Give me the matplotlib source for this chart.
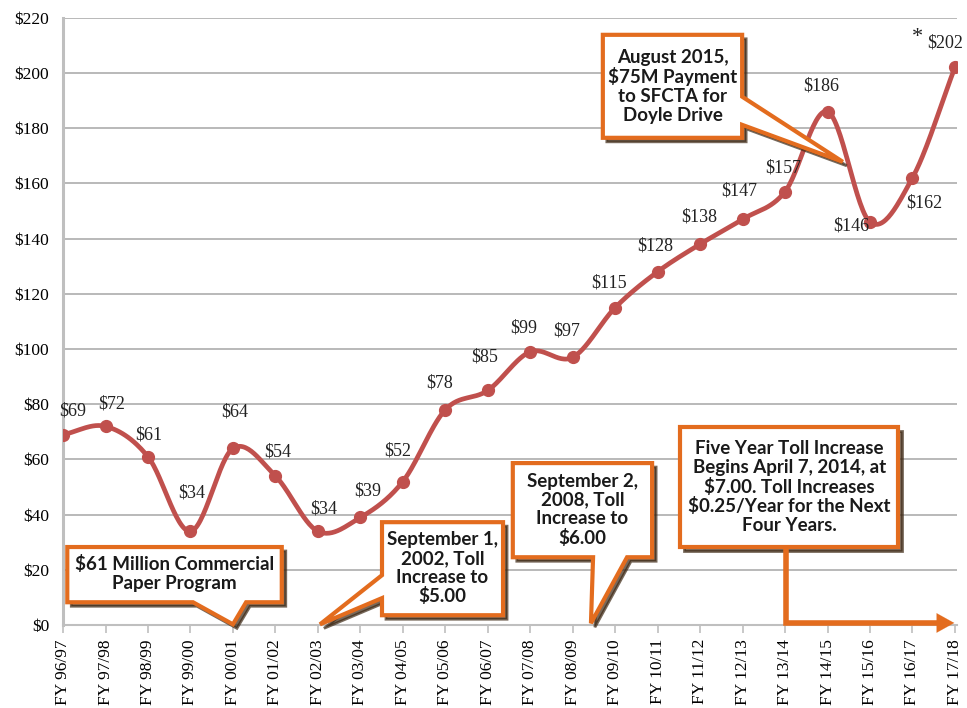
import numpy as np
import matplotlib
matplotlib.use("Agg")
import matplotlib.pyplot as plt
from matplotlib.patches import Polygon, FancyArrowPatch

categories = ["FY 96/97", "FY 97/98", "FY 98/99", "FY 99/00", "FY 00/01", "FY 01/02",
              "FY 02/03", "FY 03/04", "FY 04/05", "FY 05/06", "FY 06/07", "FY 07/08",
              "FY 08/09", "FY 09/10", "FY 10/11", "FY 11/12", "FY 12/13", "FY 13/14",
              "FY 14/15", "FY 15/16", "FY 16/17", "FY 17/18"]
values = [69, 72, 61, 34, 64, 54, 34, 39, 52, 78, 85, 99, 97, 115, 128, 138, 147, 157,
          186, 146, 162, 202]
labels = ["$69", "$72", "$61", "$34", "$64", "$54", "$34", "$39", "$52", "$78", "$85",
          "$99", "$97", "$115", "$128", "$138", "$147", "$157", "$186", "$146", "$162", "$202"]
yticks = [0, 20, 40, 60, 80, 100, 120, 140, 160, 180, 200, 220]

# label offsets in pixels (dx, dy)
label_offsets = [(10, 24), (6, 22), (1, 22), (1, 38), (2, 36), (2, 24), (6, 22), (7, 26),
                 (-5, 31), (-6, 27), (-3, 33), (-7, 24), (-6, 26), (-6, 25), (-2, 26),
                 (-1, 27), (-3, 28), (-2, 24), (-6, 26), (-19, -4), (12, -25), (-10, 24)]

LINE = "#C0504D"
ORANGE = "#E36C1E"
SHADOW = "#3d2814"
SERIF = "Liberation Serif"
SANS = "Lato"

fig = plt.figure(figsize=(9.67, 7.08), dpi=100)
ax = fig.add_axes([0.0652, 0.117, 0.9245, 0.858])

x = np.arange(len(values))
y = np.array(values, dtype=float)

# Catmull-Rom smoothing through the data points
def catmull(xp, yp, n=30):
    P = np.column_stack([xp, yp])
    P = np.vstack([P[0] - (P[1] - P[0]), P, P[-1] + (P[-1] - P[-2])])
    out = []
    t = np.linspace(0, 1, n, endpoint=False)[:, None]
    for i in range(1, len(P) - 2):
        p0, p1, p2, p3 = P[i - 1], P[i], P[i + 1], P[i + 2]
        c = 0.5 * ((2 * p1) + (-p0 + p2) * t + (2 * p0 - 5 * p1 + 4 * p2 - p3) * t ** 2 +
                   (-p0 + 3 * p1 - 3 * p2 + p3) * t ** 3)
        out.append(c)
    out.append(P[-2][None, :])
    return np.vstack(out)

curve = catmull(x, y)
ax.plot(curve[:, 0], curve[:, 1], color=LINE, lw=3.4, zorder=4, solid_capstyle="round")
ax.plot(x, y, "o", color=LINE, ms=8.5, zorder=5)

for xi, yi, lab, (dx, dy) in zip(x, y, labels, label_offsets):
    ax.annotate(lab, (xi, yi), xytext=(dx, dy), textcoords="offset pixels",
                ha="center", va="center", fontsize=13, family=SERIF, color="#222222",
                zorder=6)
ax.annotate("*", (x[-1], y[-1]), xytext=(-37, 30), textcoords="offset pixels",
            ha="center", va="center", fontsize=16, family=SERIF, color="#222222")

ax.set_xlim(0, len(values) - 1 + 0.05)
ax.set_ylim(0, 220)
ax.set_yticks(yticks)
ax.set_yticklabels([f"${v}" for v in yticks], family=SERIF, fontsize=12.5)
ax.set_xticks(x)
ax.set_xticklabels(categories, rotation=90, family=SERIF, fontsize=12.5)
ax.grid(axis="y", color="#A6A6A6", lw=1.1, zorder=0)
ax.tick_params(axis="y", length=0, pad=10)
ax.tick_params(axis="x", length=6, color="#BFBFBF", width=1.2, pad=4)
for s in ["top", "right"]:
    ax.spines[s].set_visible(False)
ax.spines["left"].set_color("#BFBFBF")
ax.spines["left"].set_linewidth(2.2)
ax.spines["bottom"].set_color("#BFBFBF")
ax.spines["bottom"].set_linewidth(1.5)
ax.set_axisbelow(True)

trans_shadow = matplotlib.transforms.offset_copy(ax.transData, fig=fig, x=4, y=-4, units="dots")

def callout(poly, text, tx, ty, fs=13.5):
    ax.add_patch(Polygon(poly, closed=True, facecolor=SHADOW, edgecolor=SHADOW, lw=2,
                         alpha=0.7, transform=trans_shadow, zorder=7, clip_on=False))
    ax.add_patch(Polygon(poly, closed=True, facecolor="white", edgecolor=ORANGE, lw=3,
                         zorder=8, clip_on=False, joinstyle="miter"))
    ax.text(tx, ty, text, ha="center", va="center", fontsize=fs, family=SANS,
            fontweight="bold", color="#1a1a1a", linespacing=1.12, zorder=9)

# $61 Million Commercial Paper Program
callout([(0.10, 28.3), (5.15, 28.3), (5.15, 8.3), (4.31, 8.3), (4.0, 0.3), (3.06, 8.3),
         (0.10, 8.3)], "$61 Million Commercial\nPaper Program", 2.62, 18.6)
# September 1, 2002
callout([(7.51, 37.3), (10.36, 37.3), (10.36, 3.6), (7.51, 3.6), (7.51, 9.8), (6.05, 0.3),
         (7.51, 18.1)], "September 1,\n2002, Toll\nIncrease to\n$5.00", 8.93, 20.6)
# September 2, 2008
callout([(10.59, 58.7), (13.87, 58.7), (13.87, 24.6), (13.28, 24.6), (12.43, 0.7),
         (12.48, 24.6), (10.59, 24.6)], "September 2,\n2008, Toll\nIncrease to\n$6.00", 12.23, 41.8)
# Five Year Toll Increase
callout([(14.53, 71.8), (19.66, 71.8), (19.66, 28.3), (14.53, 28.3)],
        "Five Year Toll Increase\nBegins April 7, 2014, at\n$7.00. Toll Increases\n$0.25/Year for the Next\nFour Years.",
        17.1, 50.0)
ax.plot([17.02, 17.02, 20.6], [28.3, 0.8, 0.8], color=ORANGE, lw=4, zorder=7,
        solid_capstyle="butt", solid_joinstyle="miter", clip_on=False)
ax.add_patch(FancyArrowPatch((20.4, 0.8), (21.05, 0.8), arrowstyle="-|>,head_length=0.9,head_width=0.5",
                             mutation_scale=14, color=ORANGE, lw=0.1, zorder=7, clip_on=False))
# August 2015
callout([(12.71, 213.8), (15.99, 213.8), (15.99, 191.4), (18.36, 167.8), (15.99, 181.2),
         (15.99, 176.5), (12.71, 176.5)],
        "August 2015,\n$75M Payment\nto SFCTA for\nDoyle Drive", 14.35, 195.2)

fig.savefig("out.png", dpi=100)
